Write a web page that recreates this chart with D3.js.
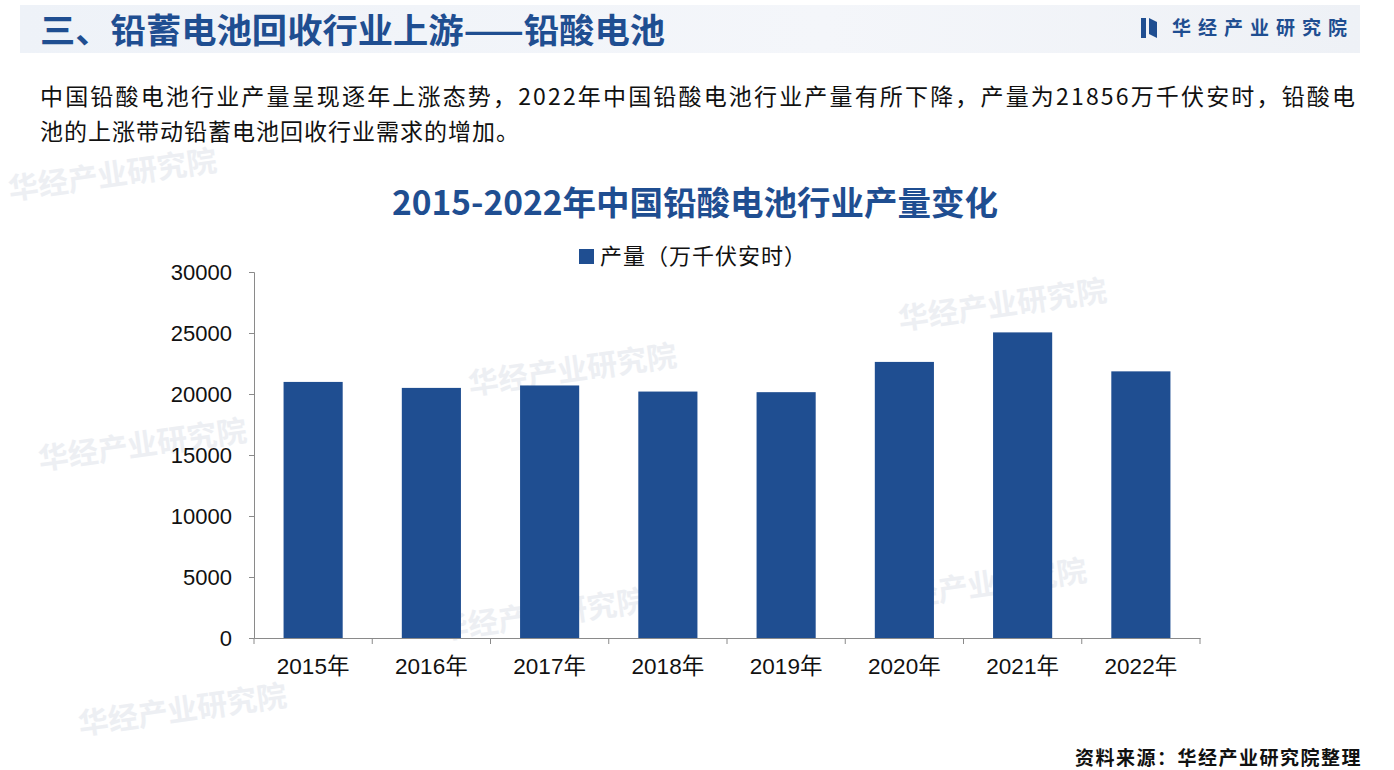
<!DOCTYPE html>
<html><head><meta charset="utf-8">
<script src="https://cdn.jsdelivr.net/npm/d3@7"></script>
<style>
html,body{margin:0;padding:0;background:#fff;}
svg{display:block;}
</style>
</head><body>
<svg id="c" width="1394" height="770"></svg>
<script>
const categories = ["2015年","2016年","2017年","2018年","2019年","2020年","2021年","2022年"];
const production = [20990, 20500, 20700, 20200, 20150, 22630, 25050, 21856];
const yTicks = [0, 5000, 10000, 15000, 20000, 25000, 30000];
const seriesName = "产量（万千伏安时）";
const chartTitle = "2015-2022年中国铅酸电池行业产量变化";
const pageTitle = "三、铅蓄电池回收行业上游——铅酸电池";
const para1 = "中国铅酸电池行业产量呈现逐年上涨态势，2022年中国铅酸电池行业产量有所下降，产量为21856万千伏安时，铅酸电";
const para2 = "池的上涨带动铅蓄电池回收行业需求的增加。";
const brand = "华经产业研究院";
const source = "资料来源：华经产业研究院整理";

const svg = d3.select("#c");
const blue = "#1f4e91";
const cjk = "'Noto Sans CJK SC','Noto Sans',sans-serif";

// header band
const defs = svg.append("defs");
const g1 = defs.append("linearGradient").attr("id","hb").attr("x1","0").attr("x2","1");
g1.append("stop").attr("offset","0").attr("stop-color","#eef2f8");
g1.append("stop").attr("offset","0.6").attr("stop-color","#f4f6fa");
g1.append("stop").attr("offset","1").attr("stop-color","#eef1f6");
svg.append("rect").attr("x",20).attr("y",5).attr("width",1340).attr("height",48).attr("fill","url(#hb)");

// watermarks
const wm = [[10,200],[40,470],[80,735],[470,395],[900,330],[880,610],[440,640]];
wm.forEach(([x,y])=>{
  svg.append("text").attr("x",x).attr("y",y).attr("transform",`rotate(-8,${x},${y})`)
    .attr("font-family",cjk).attr("font-size",30).attr("font-weight",700)
    .attr("fill","#e9ecf1").attr("opacity",0.8).text(brand);
});

svg.append("text").attr("x",40).attr("y",43).attr("font-family",cjk).attr("font-size",34)
  .attr("font-weight",700).attr("fill",blue).attr("textLength",625).attr("lengthAdjust","spacingAndGlyphs").text(pageTitle);

// logo
svg.append("rect").attr("x",1141).attr("y",18).attr("width",5).attr("height",20).attr("fill",blue);
svg.append("path").attr("d","M1149,18 L1157,22 L1157,38 L1149,34 Z").attr("fill",blue);
svg.append("text").attr("x",1172).attr("y",35).attr("font-family",cjk).attr("font-size",19)
  .attr("font-weight",700).attr("fill",blue).attr("letter-spacing",7).text(brand);

svg.append("text").attr("x",40).attr("y",105).attr("font-family",cjk).attr("font-size",23)
  .attr("fill","#111").attr("textLength",1315).attr("lengthAdjust","spacing").text(para1);
svg.append("text").attr("x",40).attr("y",140).attr("font-family",cjk).attr("font-size",23)
  .attr("fill","#111").attr("letter-spacing",1).text(para2);

svg.append("text").attr("x",695).attr("y",215).attr("text-anchor","middle").attr("font-family",cjk)
  .attr("font-size",33.5).attr("font-weight",700).attr("fill",blue).text(chartTitle);

// legend
svg.append("rect").attr("x",579).attr("y",249).attr("width",15).attr("height",15).attr("fill",blue);
svg.append("text").attr("x",600).attr("y",264).attr("font-family",cjk).attr("font-size",22)
  .attr("fill","#111").attr("letter-spacing",1).text(seriesName);

const x0 = 254, x1 = 1200, y0 = 638, y1 = 272;
const x = d3.scaleBand().domain(categories).range([x0,x1]).paddingInner(0.5).paddingOuter(0.25);
const y = d3.scaleLinear().domain([0,30000]).range([y0,y1]);

svg.append("g").selectAll("rect").data(production).join("rect")
  .attr("x",(d,i)=>x(categories[i])).attr("width",x.bandwidth())
  .attr("y",d=>y(d)).attr("height",d=>y0-y(d)).attr("fill",blue);

const yAxis = svg.append("g").attr("transform",`translate(${x0},0)`)
  .call(d3.axisLeft(y).tickValues(yTicks).tickFormat(d3.format("d")).tickSize(5).tickPadding(17));
yAxis.select(".domain").attr("stroke","#8a8a8a");
yAxis.selectAll(".tick line").attr("stroke","#8a8a8a");
yAxis.selectAll("text").attr("font-family","'Liberation Sans',Arial,sans-serif").attr("font-size",22).attr("fill","#111");

const xAxis = svg.append("g").attr("transform",`translate(0,${y0})`)
  .call(d3.axisBottom(x).tickSize(0).tickPadding(20));
xAxis.select(".domain").attr("stroke","#8a8a8a");
xAxis.selectAll("text").attr("font-family","'Liberation Sans','Noto Sans CJK SC',sans-serif").attr("font-size",22.5).attr("fill","#111");
// category boundary ticks
const bounds = d3.range(categories.length+1).map(i=>x0 + i*(x1-x0)/categories.length);
svg.append("g").selectAll("line").data(bounds).join("line")
  .attr("x1",d=>d).attr("x2",d=>d).attr("y1",y0).attr("y2",y0+6).attr("stroke","#8a8a8a");

svg.append("text").attr("x",1362).attr("y",765).attr("text-anchor","end").attr("font-family",cjk)
  .attr("font-size",19).attr("font-weight",700).attr("fill","#111").attr("letter-spacing",1.5).text(source);
</script>
</body></html>
